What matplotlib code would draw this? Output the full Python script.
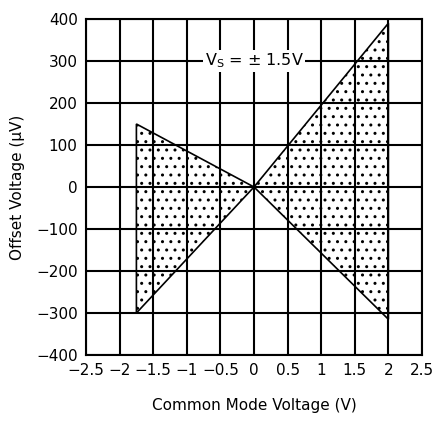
import matplotlib.pyplot as plt
import numpy as np

# region vertices (volts, microvolts)
left_x = [-1.75, -1.75, 0]
left_y = [150, -300, 0]
right_x = [0, 2, 2]
right_y = [0, 390, -315]

x_ticks = [-2.5, -2, -1.5, -1, -0.5, 0, 0.5, 1, 1.5, 2, 2.5]
x_labels = ['-2.5', '-2', '-1.5', '-1', '-0.5', '0', '0.5', '1', '1.5', '2', '2.5']
y_ticks = [-400, -300, -200, -100, 0, 100, 200, 300, 400]

plt.rcParams['font.family'] = ['DejaVu Sans']
plt.rcParams['hatch.linewidth'] = 1.0

fig = plt.figure(figsize=(4.37, 4.26), dpi=100)
ax = fig.add_axes([86/437, 71/426, 336/437, 336/426])

for xs, ys in [(left_x, left_y), (right_x, right_y)]:
    # dotted fill under the grid, outline on top
    ax.fill(xs, ys, facecolor='white', edgecolor='black', hatch='..', linewidth=0, zorder=1)
    ax.fill(xs, ys, facecolor='none', edgecolor='black', linewidth=1.2, zorder=3)

ax.set_xlim(-2.5, 2.5)
ax.set_ylim(-400, 400)
ax.set_xticks(x_ticks)
ax.set_xticklabels([s.replace('-', '\u2212') for s in x_labels])
ax.set_yticks(y_ticks)
ax.tick_params(length=0, labelsize=11, pad=6)
ax.grid(True, color='black', linewidth=1.5, zorder=2)
ax.set_axisbelow(False)
for s in ax.spines.values():
    s.set_linewidth(1.5)

ax.text(0, 300, r'$\mathregular{V_S}$ = ' + '\u00b1 1.5V', ha='center', va='center',
        fontsize=11.5, zorder=5,
        bbox=dict(facecolor='white', edgecolor='none', pad=1))

ax.set_xlabel('Common Mode Voltage (V)', fontsize=11, labelpad=14)
ax.set_ylabel('Offset Voltage (\u03bcV)', fontsize=11, labelpad=8)

fig.savefig('out.png', dpi=100)
